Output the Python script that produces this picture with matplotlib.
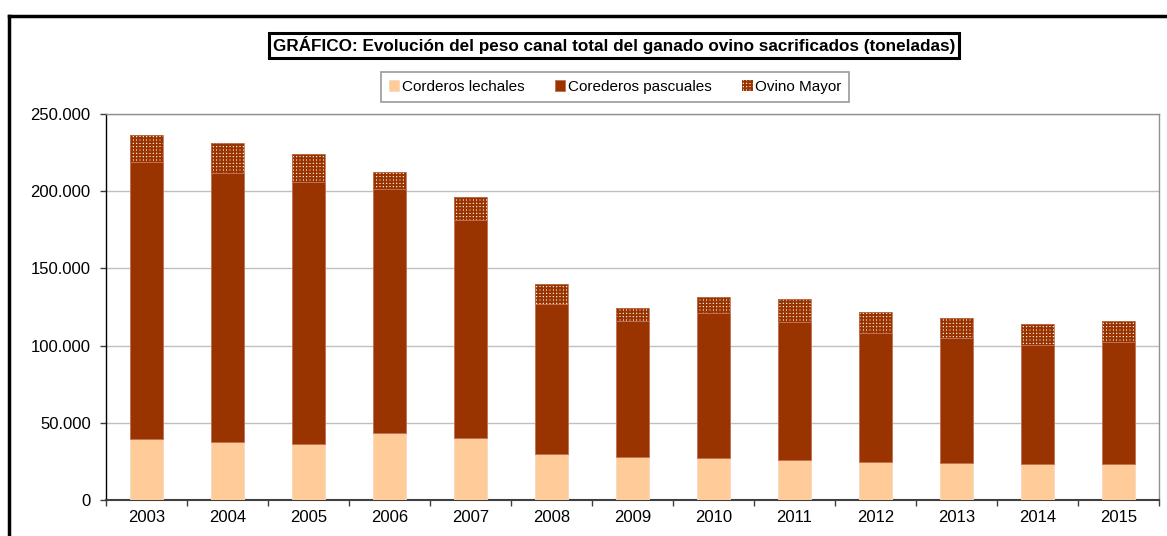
import matplotlib
matplotlib.use("Agg")
import matplotlib.pyplot as plt
from matplotlib.lines import Line2D
from matplotlib.ticker import FuncFormatter, FixedLocator
import numpy as np

plt.rcParams['font.family'] = ['Liberation Sans', 'DejaVu Sans']

years = ['2003', '2004', '2005', '2006', '2007', '2008', '2009',
         '2010', '2011', '2012', '2013', '2014', '2015']
lechales = [39500, 37600, 36300, 43400, 40200, 29600, 27900,
            27200, 25700, 24400, 24200, 23500, 23100]
pascuales = [179600, 174000, 169900, 158200, 141200, 97500, 88200,
             93700, 89400, 83600, 80900, 77100, 79400]
ovino_mayor = [17100, 19400, 17700, 10600, 14900, 12600, 8100,
               10400, 15300, 13800, 13000, 13400, 13200]

title = 'GRÁFICO: Evolución del peso canal total del ganado ovino sacrificados (toneladas)'
labels = ['Corderos lechales', 'Corederos pascuales', 'Ovino Mayor']

W, H = 1167, 536
fig = plt.figure(figsize=(W / 100, H / 100), dpi=100)

def fx(px):
    return px / W

def fy(py):
    return 1 - py / H

ax = fig.add_axes([fx(106), fy(500), fx(1159) - fx(106), fy(114) - fy(500)])

x = np.arange(len(years))
w = 0.4
b1 = ax.bar(x, lechales, w, color='#FFCC99', edgecolor='#f5d8c0', linewidth=0.6, zorder=3)
bottom2 = np.array(lechales)
b2 = ax.bar(x, pascuales, w, bottom=bottom2, color='#993300', edgecolor='#c07050',
            linewidth=0.6, zorder=3)
bottom3 = bottom2 + np.array(pascuales)
plt.rcParams['hatch.linewidth'] = 1.5
b3 = ax.bar(x, ovino_mayor, w, bottom=bottom3, color='white', edgecolor='#993300',
            linewidth=0, hatch='+++++', zorder=3)
ax.bar(x, ovino_mayor, w, bottom=bottom3, color='none', edgecolor='#c07050',
       linewidth=0.6, zorder=4)

ax.set_xlim(-0.5, len(years) - 0.5)
ax.set_ylim(0, 250000)
ax.yaxis.set_major_locator(FixedLocator([0, 50000, 100000, 150000, 200000, 250000]))
ax.yaxis.set_major_formatter(FuncFormatter(lambda v, p: f'{int(v):,}'.replace(',', '.')))
ax.set_xticks(x)
ax.set_xticklabels(years)
ax.set_xticks(np.arange(-0.5, len(years), 1), minor=True)
ax.tick_params(axis='x', which='major', length=0, pad=7, labelsize=12)
ax.tick_params(axis='x', which='minor', length=4, width=1, color='#404040', direction='out')
ax.tick_params(axis='y', length=4, width=1, color='#404040', direction='out',
               labelsize=12, pad=7)
ax.grid(axis='y', color='#c0c0c0', linewidth=1, zorder=0)
ax.set_axisbelow(True)
for s in ['top', 'right']:
    ax.spines[s].set_color('#909090')
    ax.spines[s].set_linewidth(1)
ax.spines['left'].set_color('black')
ax.spines['left'].set_linewidth(1)
ax.spines['bottom'].set_color('#404040')
ax.spines['bottom'].set_linewidth(1.5)

# Outer frame
fig.add_artist(Line2D([fx(9), 1.0], [fy(16), fy(16)], color='black', linewidth=2.5,
                      transform=fig.transFigure))
fig.add_artist(Line2D([fx(9), fx(9)], [fy(16), 0], color='black', linewidth=2.5,
                      transform=fig.transFigure))

# Title
fig.text(fx(614), fy(45.5), title, ha='center', va='center', fontsize=12.3,
         fontweight='bold',
         bbox=dict(boxstyle='square,pad=0.2', facecolor='white', edgecolor='black',
                   linewidth=2.2))

# Legend
leg = fig.legend([b1, b2, b3], labels, loc='center', bbox_to_anchor=(fx(615), fy(87)),
                 ncol=3, frameon=True, fancybox=False, fontsize=11,
                 handlelength=0.7, handleheight=0.7, handletextpad=0.15,
                 columnspacing=2.0, borderpad=0.5, edgecolor='#808080')
leg.get_frame().set_linewidth(1.2)

fig.savefig('out.png', dpi=100)
